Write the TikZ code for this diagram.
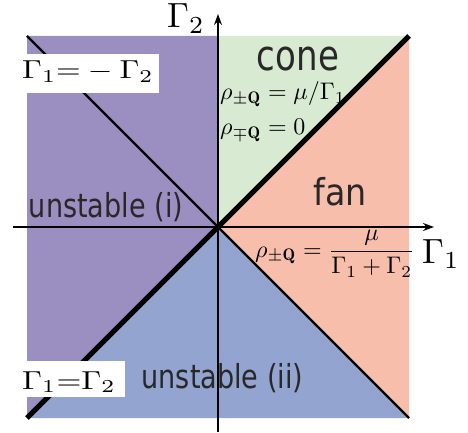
\documentclass[tikz,border=0pt]{standalone}
\usepackage{fontspec}
\usepackage{graphicx}
\usetikzlibrary{arrows.meta}
\newfontfamily\lblsans{DejaVu Sans}
\definecolor{cPurple}{RGB}{155,142,193}
\definecolor{cGreen}{RGB}{217,234,211}
\definecolor{cSalmon}{RGB}{248,190,172}
\definecolor{cBlue}{RGB}{148,164,208}
\definecolor{cText}{RGB}{40,40,40}
\tikzset{
  axisline/.style={line width=1.2pt, -{Stealth[length=11pt,width=8pt]}},
  thinline/.style={line width=2.4pt},
  thickline/.style={line width=5pt},
  region/.style={text=cText, anchor=base, inner sep=0pt},
  mathlbl/.style={anchor=base west, inner sep=0pt},
  eqbox/.style={anchor=base west, fill=white, inner ysep=0pt}
}
\begin{document}
\begin{tikzpicture}[x=1pt,y=-1pt]
\useasboundingbox (0,0) rectangle (468,433);
\coordinate (O) at (218,227);
\coordinate (TL) at (27,36);
\coordinate (TR) at (409,36);
\coordinate (BL) at (27,418);
\coordinate (BR) at (409,418);
\coordinate (T) at (218,36);
% regions
\fill[cPurple] (O) -- (T) -- (TL) -- (BL) -- cycle;
\fill[cGreen] (O) -- (T) -- (TR) -- cycle;
\fill[cSalmon] (O) -- (TR) -- (BR) -- cycle;
\fill[cBlue] (O) -- (BR) -- (BL) -- cycle;
% boundary lines
\draw[thinline] (TL) -- (BR);
\draw[thickline] (BL) -- (TR);
% axes
\coordinate (xs) at (13,227);
\coordinate (xe) at (434,227);
\coordinate (ys) at (218,432);
\coordinate (ye) at (218,14);
\draw[axisline] (xs) -- (xe);
\draw[axisline] (ys) -- (ye);
% axis labels
\node[mathlbl] (g2) at (167,28) {\scalebox{3.5}{$\Gamma_2$}};
\node[mathlbl] (g1) at (422,263) {\scalebox{3.5}{$\Gamma_1$}};
% region labels
\node[region] (cone) at (298,71) {\fontsize{42}{48}\selectfont\lblsans\scalebox{0.81}[1]{cone}};
\node[region] (fan) at (340,205) {\fontsize{37}{44}\selectfont\lblsans\scalebox{0.9}[1]{fan}};
\node[region] (un1) at (106,217) {\fontsize{33}{40}\selectfont\lblsans\scalebox{0.82}[1]{unstable (i)}};
\node[region] (un2) at (222.5,388) {\fontsize{33}{40}\selectfont\lblsans\scalebox{0.82}[1]{unstable (ii)}};
% formulas
\node[mathlbl] (rho1) at (220,100) {\scalebox{2.4}{$\rho_{\pm\mathbf{Q}}=\mu/\Gamma_1$}};
\node[mathlbl] (rho2) at (220,135) {\scalebox{2.4}{$\rho_{\mp\mathbf{Q}}=0$}};
\node[mathlbl] (rho3) at (255,257) {\scalebox{2.4}{$\displaystyle\rho_{\pm\mathbf{Q}}=\frac{\mu}{\Gamma_1+\Gamma_2}$}};
% boundary equations
\node[eqbox, inner xsep=5pt, text height=25pt, text depth=14pt] (eq1) at (17,79) {\scalebox{3.17}[2.6]{$\Gamma_1{=}-\Gamma_2$}};
\node[eqbox, inner xsep=9pt, text height=28pt, text depth=8pt] (eq2) at (13,389) {\scalebox{3.2}[2.6]{$\Gamma_1{=}\Gamma_2$}};
\end{tikzpicture}
\end{document}
